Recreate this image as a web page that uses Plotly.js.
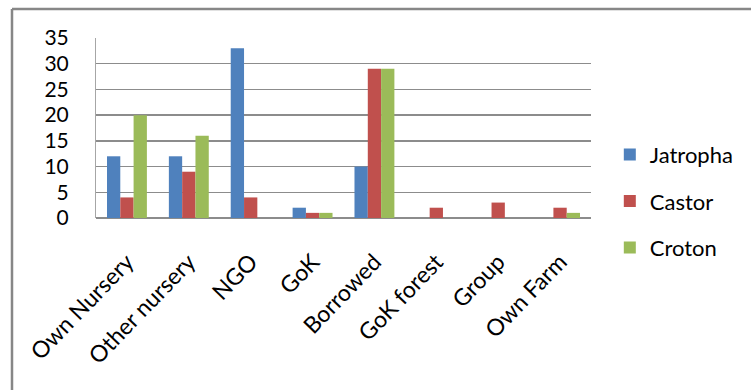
<!DOCTYPE html>
<html>
<head>
<meta charset="utf-8">
<script src="https://cdn.plot.ly/plotly-3.0.1.min.js"></script>
<style>
  html, body { margin: 0; padding: 0; background: #fff; }
  #chart { width: 751px; height: 390px; }
</style>
</head>
<body>
<div id="chart"></div>
<script>
// Seedling sources by species
const sources = ["Own Nursery", "Other nursery", "NGO", "GoK", "Borrowed", "GoK forest", "Group", "Own Farm"];
const jatropha = [12, 12, 33, 2, 10, 0, 0, 0];
const castor = [4, 9, 4, 1, 29, 2, 3, 2];
const croton = [20, 16, 0, 1, 29, 0, 0, 1];
const yTicks = [0, 5, 10, 15, 20, 25, 30, 35];

const font = "Lato, 'Open Sans', sans-serif";

function series(name, values, color, group) {
  return {
    type: "bar",
    name: name,
    x: sources,
    y: values,
    legendgroup: group,
    marker: { color: color, line: { width: 0 } },
    hoverinfo: "x+y+name"
  };
}

const data = [
  series("Jatropha", jatropha, "#4F81BD", "a"),
  series("Castor", castor, "#C0504D", "b"),
  series("Croton", croton, "#9BBB59", "c")
];

const layout = {
  width: 751,
  height: 390,
  margin: { l: 96, r: 160, t: 38, b: 172 },
  paper_bgcolor: "#fff",
  plot_bgcolor: "#fff",
  barmode: "group",
  bargap: 0.355,
  bargroupgap: 0,
  font: { family: font, size: 20, color: "#000" },
  xaxis: {
    type: "category",
    tickangle: -46,
    tickfont: { family: font, size: 23, color: "#000" },
    showgrid: false,
    showline: false,
    ticks: "",
    zeroline: false,
    ticklabelstandoff: 25
  },
  yaxis: {
    range: [0, 35],
    tickvals: yTicks,
    ticktext: yTicks.map(String),
    tickfont: { family: font, size: 21, color: "#000" },
    showgrid: true,
    gridcolor: "#8c8c8c",
    gridwidth: 1.3,
    zeroline: true,
    zerolinecolor: "#8c8c8c",
    zerolinewidth: 1.5,
    showline: true,
    linecolor: "#a6a6a6",
    linewidth: 1,
    mirror: false,
    ticks: "",
    ticklabelstandoff: 22
  },
  legend: {
    x: 1.038,
    y: 0.094,
    xanchor: "left",
    yanchor: "middle",
    font: { family: font, size: 22, color: "#000" },
    tracegroupgap: 15,
    bgcolor: "rgba(0,0,0,0)"
  },
  shapes: [
    // outer chart frame: top and left edges
    { type: "line", xref: "paper", yref: "paper", x0: -0.1697, x1: 1.4, y0: 1.161, y1: 1.161,
      line: { color: "#878787", width: 2.5 } },
    { type: "line", xref: "paper", yref: "paper", x0: -0.1697, x1: -0.1697, y0: 1.161, y1: -1.0,
      line: { color: "#878787", width: 2.5 } }
  ]
};

Plotly.newPlot("chart", data, layout, { displayModeBar: false, staticPlot: true });
</script>
</body>
</html>
